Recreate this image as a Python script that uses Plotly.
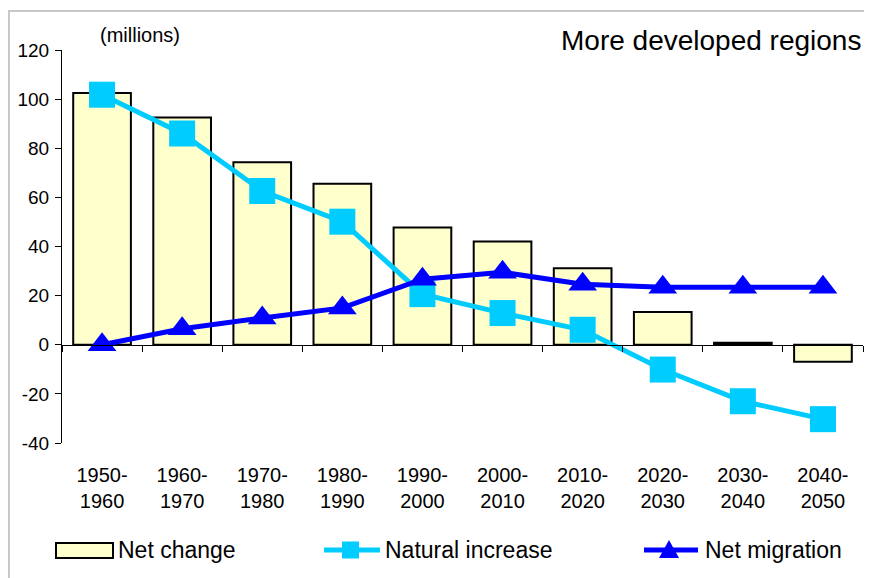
import plotly.graph_objects as go

periods = ["1950-1960", "1960-1970", "1970-1980", "1980-1990", "1990-2000",
           "2000-2010", "2010-2020", "2020-2030", "2030-2040", "2040-2050"]
tick_labels = [p.replace("-", "-<br>") for p in periods]
net_change = [102.5, 92.5, 74.3, 65.5, 47.7, 42.0, 31.1, 13.3, 0.8, -6.9]
natural_increase = [101.8, 86.0, 62.6, 50.1, 20.6, 12.9, 6.1, -10.1, -23.0, -30.3]
net_migration = [0.0, 6.5, 10.9, 15.0, 26.7, 29.5, 24.6, 23.4, 23.4, 23.4]
y_ticks = [-40, -20, 0, 20, 40, 60, 80, 100, 120]
y_tick_text = [str(v) for v in y_ticks]  # hyphen minus as in the reference

FONT = "Liberation Sans, Arial, sans-serif"
CYAN = "#00CCFF"
BLUE = "#0000FF"
BAR_FILL = "#FFFFCC"

# page offset (browser body margin) and plot-area geometry in page pixels
OFF = 8
PL, PR, PT, PB = 62, 863, 50, 443
W, H = 872 - 2 * OFF, 578 - OFF


def px(xp):
    return (xp - PL) / (PR - PL)


def py(yp):
    return (PB - yp) / (PB - PT)


fig = go.Figure()
fig.add_trace(go.Bar(
    x=tick_labels, y=net_change, name="Net change",
    marker=dict(color=BAR_FILL, line=dict(color="black", width=2)),
    width=0.72, showlegend=False,
))
fig.add_trace(go.Scatter(
    x=tick_labels, y=natural_increase, name="Natural increase",
    mode="lines+markers",
    line=dict(color=CYAN, width=5),
    marker=dict(symbol="square", size=26, color=CYAN),
    showlegend=False,
))
fig.add_trace(go.Scatter(
    x=tick_labels, y=net_migration, name="Net migration",
    mode="lines+markers",
    line=dict(color=BLUE, width=5),
    marker=dict(symbol="triangle-up", size=25, color=BLUE),
    showlegend=False,
))
# helper trace so the zero-line category axis is drawn
fig.add_trace(go.Scatter(
    x=tick_labels, y=[None] * len(tick_labels), xaxis="x2", yaxis="y",
    showlegend=False, hoverinfo="skip", mode="markers",
))

ymin, ymax = -40, 120
fig.update_layout(
    width=W, height=H,
    margin=dict(l=PL - OFF, r=W - (PR - OFF), t=PT - OFF, b=H - (PB - OFF)),
    paper_bgcolor="white", plot_bgcolor="white",
    font=dict(family=FONT, size=19, color="black"),
    showlegend=False,
    xaxis=dict(
        type="category", categoryarray=tick_labels, range=[-0.5, 9.5],
        showline=False, ticks="", showgrid=False, zeroline=False,
        tickfont=dict(size=20), ticklabelstandoff=18,
    ),
    xaxis2=dict(
        type="category", categoryarray=tick_labels, range=[-0.5, 9.5],
        overlaying="x", anchor="free",
        position=(0 - ymin) / (ymax - ymin),
        showline=True, linecolor="black", linewidth=1,
        ticks="outside", tickson="boundaries", ticklen=6, tickcolor="black",
        showticklabels=False, showgrid=False, zeroline=False,
    ),
    yaxis=dict(
        range=[ymin, ymax], tickvals=y_ticks, ticktext=y_tick_text,
        showgrid=False, zeroline=False,
        showline=True, linecolor="black", linewidth=1,
        ticks="outside", ticklen=6, tickcolor="black",
        tickfont=dict(size=19), ticklabelstandoff=2,
    ),
)

fig.add_annotation(
    text="More developed regions", xref="paper", yref="paper",
    x=px(863), y=py(40), xanchor="right", yanchor="middle",
    showarrow=False, font=dict(size=28),
)
fig.add_annotation(
    text="(millions)", xref="paper", yref="paper",
    x=px(140), y=py(35), xanchor="center", yanchor="middle",
    showarrow=False, font=dict(size=20),
)
# outer light-grey frame
fig.add_shape(
    type="rect", xref="paper", yref="paper",
    x0=px(9), x1=px(900), y0=py(600), y1=py(11),
    line=dict(color="#C8C8C8", width=2), fillcolor="rgba(0,0,0,0)",
    layer="below",
)

# ---- manual legend ----
LY = 550
LEG_FONT = 23
fig.add_shape(type="rect", xref="paper", yref="paper",
              x0=px(56), x1=px(113), y0=py(558), y1=py(543),
              line=dict(color="black", width=2), fillcolor=BAR_FILL)
fig.add_annotation(text="Net change", xref="paper", yref="paper",
                   x=px(116), y=py(LY), xanchor="left", yanchor="middle",
                   showarrow=False, font=dict(size=LEG_FONT))

fig.add_shape(type="line", xref="paper", yref="paper",
              x0=px(324), x1=px(380), y0=py(LY), y1=py(LY),
              line=dict(color=CYAN, width=5))
fig.add_shape(type="rect", xref="paper", yref="paper",
              x0=px(342), x1=px(359), y0=py(LY + 8.5), y1=py(LY - 8.5),
              line=dict(color=CYAN, width=0), fillcolor=CYAN)
fig.add_annotation(text="Natural increase", xref="paper", yref="paper",
                   x=px(383), y=py(LY), xanchor="left", yanchor="middle",
                   showarrow=False, font=dict(size=LEG_FONT))

fig.add_shape(type="line", xref="paper", yref="paper",
              x0=px(644), x1=px(698), y0=py(LY), y1=py(LY),
              line=dict(color=BLUE, width=5))
fig.add_shape(type="path", xref="paper", yref="paper",
              path=f"M {px(659)} {py(558)} L {px(679)} {py(558)} L {px(669)} {py(540)} Z",
              line=dict(color=BLUE, width=0), fillcolor=BLUE)
fig.add_annotation(text="Net migration", xref="paper", yref="paper",
                   x=px(703), y=py(LY), xanchor="left", yanchor="middle",
                   showarrow=False, font=dict(size=LEG_FONT))

fig.write_html("out.html")
